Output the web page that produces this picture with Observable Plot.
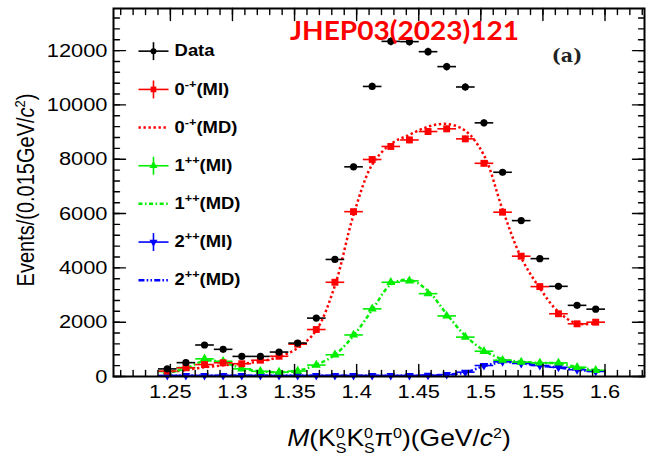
<!DOCTYPE html>
<html>
<head>
<meta charset="utf-8">
<script src="https://cdn.jsdelivr.net/npm/d3@7"></script>
<script src="https://cdn.jsdelivr.net/npm/@observablehq/plot@0.6"></script>
<style>
  body { margin: 0; background: #fff; }
  #chart { width: 649px; height: 457px; }
</style>
</head>
<body>
<div id="chart"></div>
<script>
// Bin centres of M(KsKsπ0) in GeV/c², 0.015 GeV/c² wide
const massBins = [1.2475, 1.2625, 1.2775, 1.2925, 1.3075, 1.3225, 1.3375, 1.3525,
  1.3675, 1.3825, 1.3975, 1.4125, 1.4275, 1.4425, 1.4575, 1.4725, 1.4875, 1.5025,
  1.5175, 1.5325, 1.5475, 1.5625, 1.5775, 1.5925];
const binHalfWidth = 0.0075;

// Events per bin
const dataEvents = [280, 510, 1160, 1000, 740, 740, 900, 1230, 2150, 4310, 7720, 10680,
  12340, 12330, 11960, 11410, 10660, 9340, 7520, 5740, 4340, 3320, 2620, 2480];
const pseudoscalarMI = [200, 320, 440, 505, 470, 600, 745, 1190, 1730, 3470, 6070, 7990,
  8470, 8710, 9020, 9120, 8750, 7850, 6050, 4430, 3310, 2310, 1940, 2000];
const pseudoscalarMD = [150, 240, 340, 410, 470, 560, 720, 1050, 1700, 3350, 5950, 7800,
  8560, 8900, 9200, 9300, 9050, 8150, 6150, 4380, 3250, 2380, 1950, 1960];
const axialMI = [180, 330, 650, 560, 280, 190, 160, 200, 420, 800, 1530, 2490,
  3470, 3520, 3050, 2230, 1450, 930, 600, 530, 500, 500, 340, 230];
const axialMD = [150, 300, 580, 520, 300, 190, 160, 210, 430, 800, 1500, 2450,
  3380, 3560, 3150, 2300, 1500, 960, 640, 540, 500, 480, 350, 230];
const tensorMI = [40, 40, 40, 40, 40, 40, 40, 40, 40, 40, 40, 40,
  40, 40, 45, 70, 160, 405, 540, 480, 405, 340, 250, 185];
const tensorMD = [30, 30, 30, 30, 30, 30, 30, 30, 30, 30, 30, 30,
  30, 30, 35, 60, 150, 380, 530, 480, 400, 330, 250, 180];

// Axis ticks
const xMajorTicks = [1.25, 1.3, 1.35, 1.4, 1.45, 1.5, 1.55, 1.6];
const yMajorTicks = [0, 2000, 4000, 6000, 8000, 10000, 12000];
const xMinorTicks = d3.range(121, 164).map(d => d / 100);
const yMinorTicks = d3.range(0, 13600, 400);

// Legend
const legendLabels = ["Data", "0^-+^(MI)", "0^-+^(MD)", "1^++^(MI)", "1^++^(MD)", "2^++^(MI)", "2^++^(MD)"];
const legendRowY = [11980, 10570, 9170, 7760, 6360, 4950, 3540];

const RED = "#ff0000", GREEN = "#00ee00", BLUE = "#0000ff";
const legendColors = ["#000000", RED, RED, GREEN, GREEN, BLUE, BLUE];

// dash patterns of the model-dependent curves
const DASH_0 = "2.4,2.6";
const DASH_1 = "4,2.5,1.6,2.5";
const DASH_2 = "6,2.2,1.6,2.2,1.6,2.2";

// horizontal stretch of all lettering
const STRETCH = 1.15;

const rows = massBins.map((m, i) => ({
  m,
  data: dataEvents[i],
  p0mi: pseudoscalarMI[i], p0md: pseudoscalarMD[i],
  a1mi: axialMI[i], a1md: axialMD[i],
  t2mi: tensorMI[i], t2md: tensorMD[i]
}));

const legend = legendLabels.map((label, i) => ({ label, color: legendColors[i], y: legendRowY[i], i }));
const legendPoints = legend.filter(d => d.i % 2 === 1 || d.i === 0);
const legendX1 = 1.2243, legendX2 = 1.2485, legendMark = 1.2364, legendText = 1.2534;

const tickLine = { draw(ctx, l) { ctx.moveTo(0, 0); ctx.lineTo(0, -l); } };

function ticks(values, axis, frameAnchor, rotate, length) {
  const opts = { frameAnchor, rotate, length, anchor: "start", shape: tickLine, stroke: "black", strokeWidth: 1.4 };
  opts[axis] = d => d;
  return Plot.vector(values, opts);
}

function errorBars(key, color, width) {
  return [
    Plot.link(rows, { x1: d => d.m - binHalfWidth, x2: d => d.m + binHalfWidth, y1: key, y2: key, stroke: color, strokeWidth: width }),
    Plot.link(rows, { x1: "m", x2: "m", y1: d => d[key] - Math.sqrt(d[key]) * 1.3, y2: d => d[key] + Math.sqrt(d[key]) * 1.3, stroke: color, strokeWidth: width })
  ];
}

function mdCurve(key, color, dash) {
  return Plot.line(rows, { x: "m", y: key, stroke: color, strokeWidth: 2.5, strokeDasharray: dash, strokeLinecap: "butt", curve: "catmull-rom" });
}

function mdLegend(i, dash) {
  return Plot.link([legend[i]], { x1: legendX1, x2: legendX2, y1: "y", y2: "y", stroke: "color", strokeWidth: 2.5, strokeDasharray: dash, strokeLinecap: "butt" });
}

const symbolOf = ["circle", "square", null, "triangle", null, "triangle", null];

const chart = Plot.plot({
  width: 649,
  height: 457,
  marginLeft: 113,
  marginRight: 5,
  marginTop: 8,
  marginBottom: 81,
  x: { domain: [1.2042, 1.6318] },
  y: { domain: [0, 13550] },
  style: { fontFamily: "'Liberation Sans', Arial, sans-serif", background: "white", color: "black" },
  marks: [
    // model-dependent curves
    mdCurve("p0md", RED, DASH_0),
    mdCurve("a1md", GREEN, DASH_1),
    mdCurve("t2md", BLUE, DASH_2),

    // model-independent components
    ...errorBars("t2mi", BLUE, 1.6),
    Plot.dot(rows, { x: "m", y: "t2mi", symbol: "triangle", rotate: 180, r: 3.2, fill: BLUE }),
    ...errorBars("a1mi", GREEN, 1.6),
    Plot.dot(rows, { x: "m", y: "a1mi", symbol: "triangle", r: 3.4, fill: GREEN }),
    ...errorBars("p0mi", RED, 1.6),
    Plot.dot(rows, { x: "m", y: "p0mi", symbol: "square", r: 3.9, fill: RED }),

    // data
    ...errorBars("data", "black", 1.6),
    Plot.dot(rows, { x: "m", y: "data", r: 3.6, fill: "black" }),

    // legend
    Plot.link(legendPoints, { x1: legendX1, x2: legendX2, y1: "y", y2: "y", stroke: "color", strokeWidth: 1.6 }),
    Plot.link(legendPoints, { x1: legendMark, x2: legendMark, y1: d => d.y - 330, y2: d => d.y + 330, stroke: "color", strokeWidth: 1.6 }),
    mdLegend(2, DASH_0),
    mdLegend(4, DASH_1),
    mdLegend(6, DASH_2),
    Plot.dot(legendPoints, { x: legendMark, y: "y", symbol: d => symbolOf[d.i], rotate: d => d.i === 5 ? 180 : 0, r: d => d.i === 1 ? 3.9 : 3.4, fill: "color" }),
    Plot.text(legend, { x: legendText, y: "y", text: "label", textAnchor: "start", fontSize: 16, fontWeight: "bold", fill: "black" }),

    // inward ticks on all four sides
    ticks(xMajorTicks, "x", "bottom", 0, 12),
    ticks(xMinorTicks, "x", "bottom", 0, 6),
    ticks(xMajorTicks, "x", "top", 180, 12),
    ticks(xMinorTicks, "x", "top", 180, 6),
    ticks(yMajorTicks, "y", "left", 90, 12),
    ticks(yMinorTicks, "y", "left", 90, 6),
    ticks(yMajorTicks, "y", "right", -90, 12),
    ticks(yMinorTicks, "y", "right", -90, 6),

    Plot.axisX({ ticks: xMajorTicks, tickSize: 0, tickPadding: 8, fontSize: 19, label: null, tickFormat: d => String(d) }),
    Plot.axisY({ ticks: yMajorTicks, tickSize: 0, tickPadding: 6, fontSize: 19, label: null, tickFormat: d => String(d) }),
    Plot.frame({ stroke: "black", strokeWidth: 2 })
  ]
});

const svg = d3.select(chart);

// superscripts in legend labels, written as base^sup^rest
svg.selectAll("text").each(function () {
  const s = this.textContent;
  if (!s.includes("^")) return;
  const [base, sup, rest] = s.split("^");
  const t = d3.select(this).text(null);
  t.append("tspan").text(base);
  t.append("tspan").attr("dy", -7).attr("font-size", 11).text(sup);
  t.append("tspan").attr("dy", 7).text(rest);
});

// widen the lettering around each text's own anchor
svg.selectAll("text").each(function () {
  const tr = this.getAttribute("transform");
  if (tr) this.setAttribute("transform", `${tr} scale(${STRETCH},1)`);
  else {
    const x = +this.getAttribute("x") || 0, y = +this.getAttribute("y") || 0;
    this.setAttribute("transform", `translate(${x},${y}) scale(${STRETCH},1)`);
    this.setAttribute("x", 0); this.setAttribute("y", 0);
  }
});

function supSub(t, sup, sub, size) {
  t.append("tspan").attr("dy", -8).attr("font-size", size).text(sup);
  if (sub) t.append("tspan").attr("dx", -size * 0.556).attr("dy", 15).attr("font-size", size).text(sub);
}

// x-axis title: M(K⁰_S K⁰_S π⁰)(GeV/c²)
const xt = svg.append("text").attr("transform", `translate(399,446) scale(${STRETCH},1)`)
  .attr("text-anchor", "middle").attr("font-size", 23).attr("fill", "black");
xt.append("tspan").attr("font-style", "italic").text("M");
xt.append("tspan").text("(K");
supSub(xt, "0", "S", 14);
xt.append("tspan").attr("dy", -7).text("K");
supSub(xt, "0", "S", 14);
xt.append("tspan").attr("dy", -7).text("π");
supSub(xt, "0", null, 14);
xt.append("tspan").attr("dy", 8).text(")(GeV/");
xt.append("tspan").attr("font-style", "italic").text("c");
supSub(xt, "2", null, 14);
xt.append("tspan").attr("dy", 8).text(")");

// y-axis title: Events/(0.015GeV/c²)
const yt = svg.append("text").attr("transform", `translate(34,190) rotate(-90) scale(1,${STRETCH})`)
  .attr("text-anchor", "middle").attr("font-size", 20).attr("fill", "black");
yt.append("tspan").text("Events/(0.015GeV/");
yt.append("tspan").attr("font-style", "italic").text("c");
yt.append("tspan").attr("dy", -8).attr("font-size", 13).text("2");
yt.append("tspan").attr("dy", 8).text(")");

// panel tag
svg.append("text").attr("x", 567).attr("y", 62).attr("text-anchor", "middle")
  .attr("font-family", "'DejaVu Serif', serif").attr("font-weight", "bold").attr("font-size", 19)
  .attr("fill", "#222").text("(a)");

// publication reference
svg.append("text").attr("x", 290).attr("y", 40).attr("text-anchor", "start")
  .attr("font-family", "Lato, 'Open Sans', sans-serif").attr("font-weight", "bold").attr("font-size", 27)
  .attr("textLength", 229).attr("lengthAdjust", "spacingAndGlyphs")
  .attr("fill", "#ff0000").text("JHEP03(2023)121");

document.getElementById("chart").append(chart);
</script>
</body>
</html>
